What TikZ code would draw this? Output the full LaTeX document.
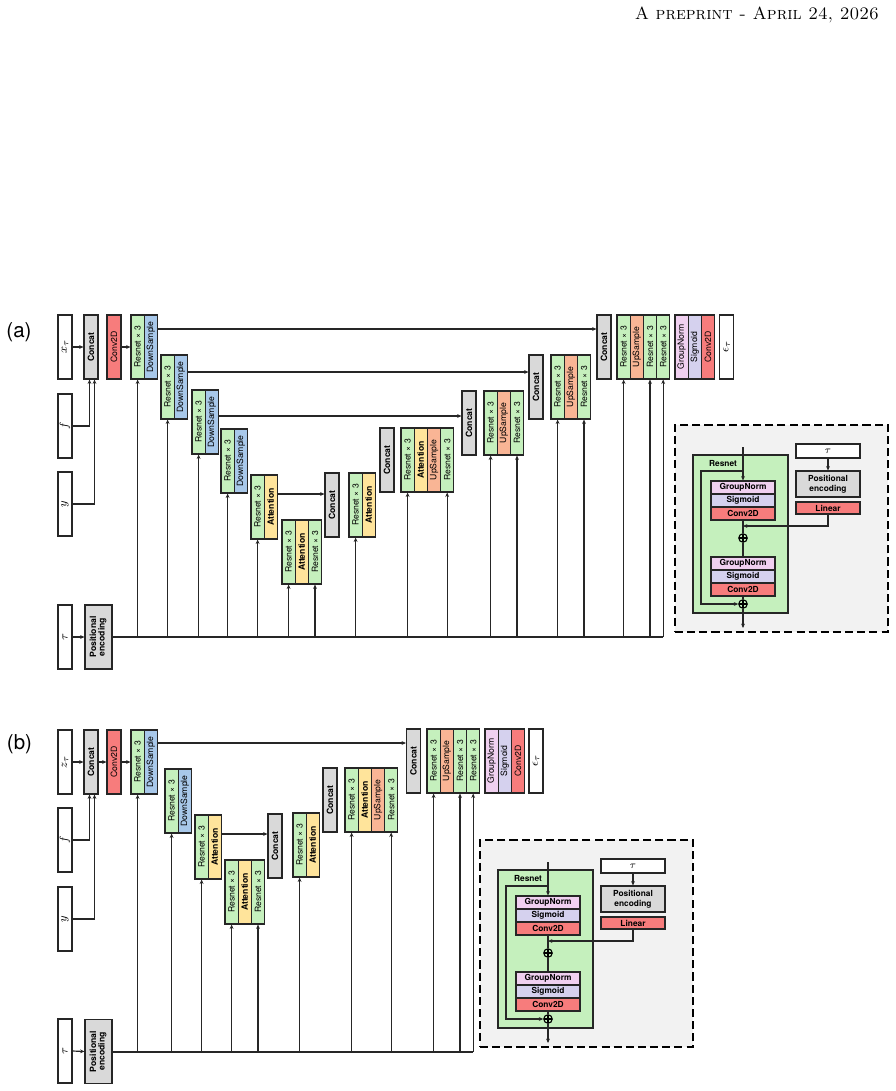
\documentclass[tikz,border=0pt]{standalone}
\usepackage{fontspec}
\newfontfamily\hv{TeX Gyre Heros}
\usetikzlibrary{arrows.meta,calc}
\newdimen\pu \pu=0.683pt
\definecolor{cgreen}{HTML}{C5F0BD}
\definecolor{cblue}{HTML}{A8C8EA}
\definecolor{cyellow}{HTML}{FFE49B}
\definecolor{corange}{HTML}{F9B595}
\definecolor{cred}{HTML}{F77C7C}
\definecolor{cgray}{HTML}{D9D9D9}
\definecolor{cpink}{HTML}{F0D0F0}
\definecolor{clav}{HTML}{D5D1EE}
\definecolor{cbg}{HTML}{F2F2F2}
\tikzset{
  cellbase/.style={draw=black!85, line width=0.75pt, inner sep=0pt,
    minimum width=13.2\pu, minimum height=64\pu,
    font=\hv\fontsize{5.9}{6.8}\selectfont},
  res/.style={cellbase, fill=cgreen},
  down/.style={cellbase, fill=cblue},
  att/.style={cellbase, fill=cyellow, font=\hv\bfseries\fontsize{5.9}{6.8}\selectfont},
  up/.style={cellbase, fill=corange},
  cnv/.style={cellbase, fill=cred},
  gn/.style={cellbase, fill=cpink},
  sig/.style={cellbase, fill=clav},
  cat/.style={cellbase, fill=cgray, minimum width=14\pu, font=\hv\bfseries\fontsize{5.9}{6.8}\selectfont},
  inp/.style={cellbase, fill=white, minimum width=14\pu, font=\fontsize{8}{9}\selectfont},
  pebox/.style={cellbase, fill=cgray, minimum width=27\pu, font=\hv\bfseries\fontsize{5.9}{6.8}\selectfont},
  conn/.style={line width=0.8pt, draw=black!85},
  arr/.style={conn, -{Stealth[length=3pt,width=2.6pt]}},
  lab/.style={font=\hv\fontsize{14}{16}\selectfont},
  frame/.style={draw=black, line width=1.9pt, dash pattern=on 5.5pt off 2.8pt, fill=cbg,
    minimum width=213\pu, minimum height=207\pu, inner sep=0pt},
  gbox/.style={draw=black!85, line width=0.75pt, fill=cgreen, inner sep=0pt,
    minimum width=95\pu, minimum height=158\pu},
  ibase/.style={draw=black!85, line width=0.75pt, inner sep=0pt, minimum width=64\pu,
    minimum height=13\pu, font=\hv\bfseries\fontsize{5.7}{6.6}\selectfont},
  igns/.style={ibase, fill=cpink},
  isig/.style={ibase, fill=clav},
  icnv/.style={ibase, fill=cred},
  itau/.style={ibase, fill=white, minimum height=14\pu, font=\fontsize{7.5}{8}\selectfont},
  ipe/.style={ibase, fill=cgray, minimum height=26\pu},
  ilin/.style={ibase, fill=cred, minimum height=12\pu},
  oplus/.style={circle, draw=black, line width=0.75pt, inner sep=0pt, minimum size=8.5\pu,
    path picture={\draw[line width=0.75pt] (path picture bounding box.north) -- (path picture bounding box.south)
      (path picture bounding box.west) -- (path picture bounding box.east);}},
}
\newcommand\blk[4]{%
  \foreach[count=\i] \st/\tx in {#4}{%
    \node[\st] (#1-\i) at ({#2+(\i-0.5)*13.2},{#3+32}) {\rotatebox{90}{\tx}};}}
\newcommand\insetdiag[3]{%
\begin{scope}[shift={(#2,#3)}]
  \node[frame] (#1-frame) at (781.5,528.5) {};
  \node[gbox] (#1-res) at (740.5,534) {};
  \node[font=\hv\bfseries\fontsize{5.7}{6.6}\selectfont] (#1-lab) at (723,463) {Resnet};
  \node[igns] (#1-gn1) at (743,487.5) {GroupNorm};
  \node[isig] (#1-sg1) at (743,500.5) {Sigmoid};
  \node[icnv] (#1-cv1) at (743,513.5) {Conv2D};
  \node[oplus] (#1-p1) at (743,538) {};
  \node[igns] (#1-gn2) at (743,563.5) {GroupNorm};
  \node[isig] (#1-sg2) at (743,576.5) {Sigmoid};
  \node[icnv] (#1-cv2) at (743,589.5) {Conv2D};
  \node[oplus] (#1-p2) at (743,604) {};
  \coordinate (#1-in) at (743,447);
  \coordinate (#1-sk) at (743,471);
  \coordinate (#1-j) at (743,526);
  \coordinate (#1-out) at (743,628);
  \node[itau] (#1-tau) at (828,451) {$\tau$};
  \node[ipe, align=center] (#1-pe) at (828,484) {Positional\\encoding};
  \node[ilin] (#1-lin) at (828,508) {Linear};
  \draw[arr] (#1-in) -- (#1-gn1.north);
  \draw[arr] (#1-sk) -- ++(-42,0) |- (#1-p2.west);
  \draw[conn] (#1-cv1.south) -- (#1-p1.north);
  \draw[conn] (#1-p1.south) -- (#1-gn2.north);
  \draw[arr] (#1-lin.south) |- (#1-j);
  \draw[conn] (#1-cv2.south) -- (#1-p2.north);
  \draw[arr] (#1-p2.south) -- (#1-out);
  \draw[arr] (#1-tau.south) -- (#1-pe.north);
\end{scope}}
\begin{document}
\begin{tikzpicture}[x=0.683pt,y=-0.683pt]
\useasboundingbox (0,0) rectangle (896,1091);
\node[anchor=base east, font=\fontsize{12}{14}\selectfont] (hdr) at (884,19) {\textsc{A preprint - April 24, 2026}};

% ===================== (a) =====================
\node[lab] (la) at (19,332) {(a)};
\node[inp] (a-xt) at (65,347) {\rotatebox{90}{$x_\tau$}};
\node[inp] (a-f) at (65,426) {\rotatebox{90}{$f$}};
\node[inp] (a-y) at (65,504) {\rotatebox{90}{$y$}};
\node[inp] (a-tau) at (65,637) {\rotatebox{90}{$\tau$}};
\node[cat] (a-c0) at (91,347) {\rotatebox{90}{Concat}};
\node[cnv, minimum width=14\pu] (a-conv) at (114,347) {\rotatebox{90}{Conv2D}};
\node[pebox] (a-pe) at (98.5,637) {\rotatebox{90}{\begin{tabular}{@{}c@{}}Positional\\[-1pt]encoding\end{tabular}}};
\blk{a-b1}{131}{315}{res/{Resnet × 3}, down/DownSample}
\blk{a-b2}{161}{355}{res/{Resnet × 3}, down/DownSample}
\blk{a-b3}{192}{390}{res/{Resnet × 3}, down/DownSample}
\blk{a-b4}{221}{429}{res/{Resnet × 3}, down/DownSample}
\blk{a-b5}{251}{475}{res/{Resnet × 3}, att/Attention}
\blk{a-b6}{282}{520}{res/{Resnet × 3}, att/Attention, res/{Resnet × 3}}
\node[cat] (a-c1) at (332,505) {\rotatebox{90}{Concat}};
\blk{a-b7}{349}{473}{res/{Resnet × 3}, att/Attention}
\node[cat] (a-c2) at (387,460) {\rotatebox{90}{Concat}};
\blk{a-b8}{401}{428}{res/{Resnet × 3}, att/Attention, up/UpSample, res/{Resnet × 3}}
\node[cat] (a-c3) at (469,423) {\rotatebox{90}{Concat}};
\blk{a-b9}{484}{391}{res/{Resnet × 3}, up/UpSample, res/{Resnet × 3}}
\node[cat] (a-c4) at (536,387) {\rotatebox{90}{Concat}};
\blk{a-b10}{551}{355}{res/{Resnet × 3}, up/UpSample, res/{Resnet × 3}}
\node[cat] (a-c5) at (604,347) {\rotatebox{90}{Concat}};
\blk{a-b11}{617}{315}{res/{Resnet × 3}, up/UpSample, res/{Resnet × 3}, res/{Resnet × 3}}
\blk{a-o}{675}{315}{gn/GroupNorm, sig/Sigmoid, cnv/Conv2D}
\node[inp] (a-eps) at (726.5,347) {\rotatebox{90}{$\epsilon_\tau$}};

\draw[arr] (a-xt.east) -- (a-c0.west);
\draw[arr] (a-conv.east) -- (a-b1-1.west);
\draw[arr] (a-f.east) -| ([xshift=-1.5\pu]a-c0.south);
\draw[arr] (a-y.east) -| ([xshift=3.5\pu]a-c0.south);
\draw[arr] (a-tau.east) -- (a-pe.west);
\draw[arr] (a-b1-2.east |- 0,329) -- (a-c5.west |- 0,329);
\draw[arr] (a-b2-2.east |- 0,372) -- (a-c4.west |- 0,372);
\draw[arr] (a-b3-2.east |- 0,416) -- (a-c3.west |- 0,416);
\draw[arr] (a-b5-2.east |- 0,494) -- (a-c1.west |- 0,494);
\draw[conn] (a-pe.east |- 0,637) -- (a-b11-4.south |- 0,637);
\foreach \n in {a-b1-1,a-b2-1,a-b3-1,a-b4-1,a-b5-1,a-b6-1,a-b6-3,a-b7-1,a-b8-1,a-b8-4,a-b9-1,a-b9-3,a-b10-1,a-b10-3,a-b11-1,a-b11-3,a-b11-4}
  \draw[arr] (\n.south |- 0,637) -- (\n.south);

\insetdiag{ia}{0}{0}

% ===================== (b) =====================
\node[lab] (lb) at (19.5,744) {(b)};
\node[inp] (b-zt) at (65,762) {\rotatebox{90}{$z_\tau$}};
\node[inp] (b-f) at (65,840) {\rotatebox{90}{$f$}};
\node[inp] (b-y) at (65,919) {\rotatebox{90}{$y$}};
\node[inp] (b-tau) at (65,1051) {\rotatebox{90}{$\tau$}};
\node[cat] (b-c0) at (91,762) {\rotatebox{90}{Concat}};
\node[cnv, minimum width=14\pu] (b-conv) at (114,762) {\rotatebox{90}{Conv2D}};
\node[pebox] (b-pe) at (98.5,1051.5) {\rotatebox{90}{\begin{tabular}{@{}c@{}}Positional\\[-1pt]encoding\end{tabular}}};
\blk{b-b1}{131}{730}{res/{Resnet × 3}, down/DownSample}
\blk{b-b2}{165}{769}{res/{Resnet × 3}, down/DownSample}
\blk{b-b3}{195}{815}{res/{Resnet × 3}, att/Attention}
\blk{b-b4}{225}{860}{res/{Resnet × 3}, att/Attention, res/{Resnet × 3}}
\node[cat] (b-c1) at (275,846) {\rotatebox{90}{Concat}};
\blk{b-b5}{293}{813}{res/{Resnet × 3}, att/Attention}
\node[cat] (b-c2) at (330,800) {\rotatebox{90}{Concat}};
\blk{b-b6}{345}{768}{res/{Resnet × 3}, att/Attention, up/UpSample, res/{Resnet × 3}}
\node[cat] (b-c3) at (413.5,761) {\rotatebox{90}{Concat}};
\blk{b-b7}{427}{729}{res/{Resnet × 3}, up/UpSample, res/{Resnet × 3}, res/{Resnet × 3}}
\blk{b-o}{485}{729}{gn/GroupNorm, sig/Sigmoid, cnv/Conv2D}
\node[inp] (b-eps) at (536,761) {\rotatebox{90}{$\epsilon_\tau$}};

\draw[arr] (b-zt.east) -- (b-c0.west);
\draw[arr] (b-c0.east) -- (b-conv.west);
\draw[arr] (b-conv.east) -- (b-b1-1.west |- b-conv.east);
\draw[arr] (b-f.east) -| ([xshift=-1.5\pu]b-c0.south);
\draw[arr] (b-y.east) -| ([xshift=3.5\pu]b-c0.south);
\draw[arr] (b-tau.east) -- (b-pe.west);
\draw[arr] (b-b1-2.east |- 0,743) -- (b-c3.west |- 0,743);
\draw[arr] (b-b3-2.east |- 0,834) -- (b-c1.west |- 0,834);
\draw[conn] (b-pe.east |- 0,1052) -- (b-b7-4.south |- 0,1052);
\foreach \n in {b-b1-1,b-b2-1,b-b3-1,b-b4-1,b-b4-3,b-b5-1,b-b6-1,b-b6-4,b-b7-1,b-b7-3,b-b7-4}
  \draw[arr] (\n.south |- 0,1052) -- (\n.south);

\insetdiag{ib}{-195}{415}
\end{tikzpicture}
\end{document}
